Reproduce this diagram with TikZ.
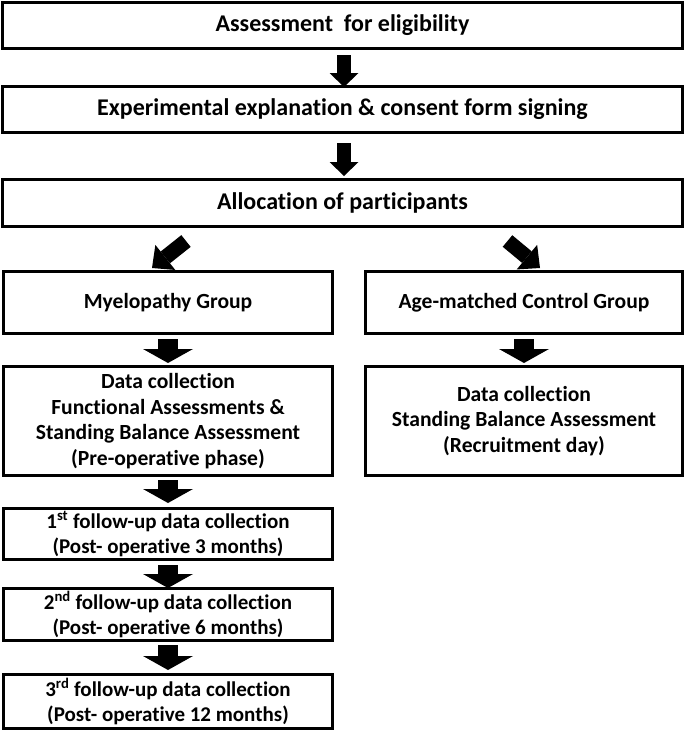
\documentclass[tikz,border=0pt]{standalone}
\usepackage{fontspec}
\setmainfont[Ligatures=NoCommon]{Carlito}
\usetikzlibrary{arrows.meta}
\begin{document}
\begin{tikzpicture}[x=1pt,y=-1pt,
  box/.style={draw=black, line width=3pt, fill=white, inner sep=0pt, align=center,
    font=\fontsize{24}{29}\selectfont\bfseries},
  lowbox/.style={box, font=\fontsize{21}{25.5}\selectfont\bfseries},
  groupbox/.style={box, font=\fontsize{21.6}{25.5}\selectfont\bfseries},
  smallarrow/.style={line width=14pt, -{Triangle[length=14pt,width=29pt,line width=0pt]}},
  diagarrow/.style={line width=15pt, -{Triangle[length=17pt,width=32pt,line width=0pt]}},
  bigarrow/.style={line width=20pt, -{Triangle[length=14pt,width=50pt,line width=0pt]}},
]
\useasboundingbox[fill=white] (0,0) rectangle (685,732);

% top boxes
\node[box, minimum width=680pt, minimum height=46pt] (b1) at (342.5,25.5) {Assessment\ \ for eligibility};
\node[box, minimum width=680pt, minimum height=46pt] (b2) at (342.5,109.5) {Experimental explanation \& consent form signing};
\node[box, minimum width=680pt, minimum height=47pt] (b3) at (342.5,203) {Allocation of participants};

% groups
\node[groupbox, minimum width=329pt, minimum height=62pt] (m) at (168,302.5) {Myelopathy Group};
\node[groupbox, minimum width=317pt, minimum height=62pt] (c) at (524,302.5) {Age-matched Control Group};

\node[groupbox, minimum width=329pt, minimum height=109pt] (dl) at (168,421)
  {Data collection\\Functional Assessments \&\\Standing Balance Assessment\\(Pre-operative phase)};
\node[groupbox, minimum width=317pt, minimum height=109pt] (dr) at (524,421)
  {Data collection\\Standing Balance Assessment\\(Recruitment day)};

\node[lowbox, minimum width=329pt, minimum height=51pt] (f1) at (168,534)
  {1\textsuperscript{st} follow-up data collection\\(Post- operative 3 months)};
\node[lowbox, minimum width=329pt, minimum height=52pt] (f2) at (168,614.5)
  {2\textsuperscript{nd} follow-up data collection\\(Post- operative 6 months)};
\node[lowbox, minimum width=329pt, minimum height=54pt] (f3) at (168,701.5)
  {3\textsuperscript{rd} follow-up data collection\\(Post- operative 12 months)};

% arrows
\draw[smallarrow] ([xshift=1.5pt,yshift=-5pt]b1.south) -- ([xshift=1.5pt,yshift=-2pt]b2.north);
\draw[smallarrow] ([xshift=1.5pt,yshift=-9pt]b2.south) -- ([xshift=1.5pt,yshift=2pt]b3.north);

\draw[diagarrow] ([xshift=-156.5pt,yshift=-13pt]b3.south) -- ([xshift=-16pt,yshift=2pt]m.north);
\draw[diagarrow] ([xshift=165pt,yshift=-13pt]b3.south) -- ([xshift=16pt,yshift=2pt]c.north);

\draw[bigarrow] ([yshift=-4pt]m.south) -- ([yshift=2pt]dl.north);
\draw[bigarrow] ([yshift=-4pt]c.south) -- ([yshift=2pt]dr.north);
\draw[bigarrow] ([yshift=-3pt]dl.south) -- ([yshift=4pt]f1.north);
\draw[bigarrow] ([yshift=-4pt]f1.south) -- ([yshift=-1pt]f2.north);
\draw[bigarrow] ([yshift=-3pt]f2.south) -- ([yshift=3pt]f3.north);
\end{tikzpicture}
\end{document}
